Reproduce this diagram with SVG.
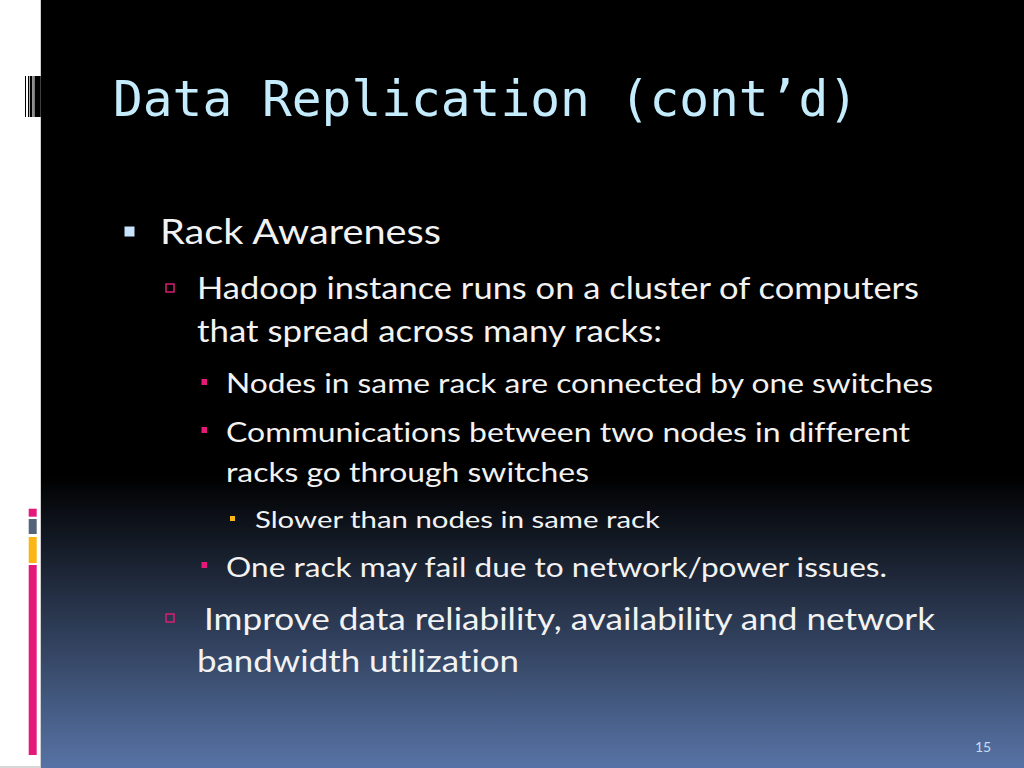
<svg xmlns="http://www.w3.org/2000/svg" width="1024" height="768" viewBox="0 0 1024 768">
<defs>
<linearGradient id="bg" x1="0" y1="0" x2="0" y2="768" gradientUnits="userSpaceOnUse">
<stop offset="0" stop-color="#000000"/>
<stop offset="0.62" stop-color="#000000"/>
<stop offset="1" stop-color="#5773a5"/>
</linearGradient>
<style>
.t{font-family:Lato,"Open Sans","Liberation Sans",sans-serif;fill:#f2f2f2;font-variant-ligatures:none;font-feature-settings:"liga" 0,"clig" 0}
.l1{font-size:35px}
.l2{font-size:31px}
.l3{font-size:26px}
.l4{font-size:23px}
.title{font-family:"DejaVu Sans Mono","Liberation Mono",monospace;font-size:49.5px;fill:#c4ecfc}
.b2{fill:none;stroke:#d81e72;stroke-width:1.5}
</style>
</defs>
<rect x="0" y="0" width="1024" height="768" fill="#ffffff"/>
<rect x="41" y="0" width="983" height="768" fill="url(#bg)"/>
<line x1="40.5" y1="0" x2="40.5" y2="768" stroke="#d0d0d0" stroke-width="1"/>
<line x1="0" y1="767" x2="41" y2="767" stroke="#c8c8c8" stroke-width="1.5"/>
<g id="barcode">
<rect x="25" y="76" width="1" height="41" fill="#000"/>
<rect x="28" y="76" width="1.3" height="41" fill="#000"/>
<rect x="30" y="76" width="2.4" height="41" fill="#000"/>
<rect x="32.7" y="76" width="2" height="41" fill="#888"/>
<rect x="34.7" y="76" width="6" height="41" fill="#000"/>
</g>
<g id="sidebars">
<rect x="28.7" y="508.7" width="8" height="8" fill="#e4197a"/>
<rect x="28.7" y="519" width="8" height="15" fill="#56647a"/>
<rect x="28.7" y="537" width="8" height="26" fill="#fbb614"/>
<rect x="28.7" y="565" width="8" height="190" fill="#e4197a"/>
</g>
<text id="title" class="title" x="113" y="116">Data Replication (cont’d)</text>
<g id="body">
<rect x="124.5" y="226.5" width="10" height="10" fill="#c8e4fc"/>
<text class="t l1" x="160" y="244" textLength="281" lengthAdjust="spacingAndGlyphs">Rack Awareness</text>
<rect x="166" y="284" width="8" height="8" class="b2"/>
<text class="t l2" x="197" y="299" textLength="722" lengthAdjust="spacingAndGlyphs">Hadoop instance runs on a cluster of computers</text>
<text class="t l2" x="197" y="342" textLength="465" lengthAdjust="spacingAndGlyphs">that spread across many racks:</text>
<rect x="201.5" y="379" width="5.5" height="6" fill="#e4197a"/>
<text class="t l3" x="226" y="393" textLength="707" lengthAdjust="spacingAndGlyphs">Nodes in same rack are connected by one switches</text>
<rect x="201.5" y="427" width="5.5" height="6" fill="#e4197a"/>
<text class="t l3" x="226" y="442" textLength="684" lengthAdjust="spacingAndGlyphs">Communications between two nodes in different</text>
<text class="t l3" x="226" y="482" textLength="363" lengthAdjust="spacingAndGlyphs">racks go through switches</text>
<rect x="230" y="516" width="5" height="5" fill="#fbb614"/>
<text class="t l4" x="255" y="528" textLength="405" lengthAdjust="spacingAndGlyphs">Slower than nodes in same rack</text>
<rect x="201.5" y="562" width="5.5" height="6" fill="#e4197a"/>
<text class="t l3" x="226" y="577" textLength="661" lengthAdjust="spacingAndGlyphs">One rack may fail due to network/power issues.</text>
<rect x="166" y="614" width="8" height="8" class="b2"/>
<text class="t l2" x="204" y="630" textLength="731" lengthAdjust="spacingAndGlyphs">Improve data reliability, availability and network</text>
<text class="t l2" x="197" y="672" textLength="322" lengthAdjust="spacingAndGlyphs">bandwidth utilization</text>
</g>
<text id="page" x="975" y="752" font-family="Lato,'Liberation Sans',sans-serif" font-size="14" fill="#c8dcf4">15</text>
</svg>
